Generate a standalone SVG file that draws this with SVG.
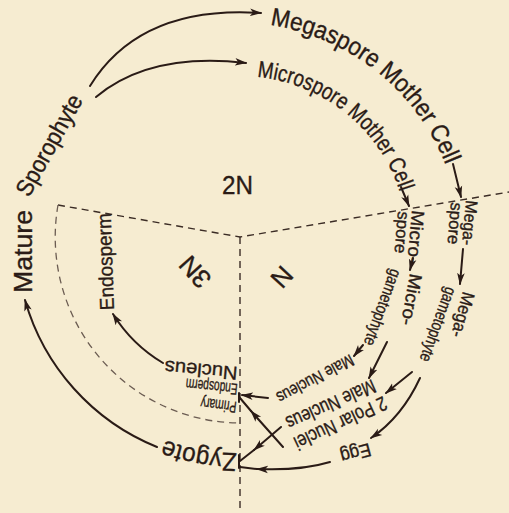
<svg xmlns="http://www.w3.org/2000/svg" xmlns:xlink="http://www.w3.org/1999/xlink" width="509" height="513" viewBox="0 0 509 513">
<style>
.t{font-family:"Liberation Sans","DejaVu Sans",sans-serif;fill:#2a1b16;stroke:#2a1b16;stroke-width:0.35;}
.ln{fill:none;stroke:#2a1b16;stroke-width:2;stroke-linecap:round}
.dash{fill:none;stroke:#3b2c25;stroke-width:1.4;stroke-dasharray:7 5}
.dash2{fill:none;stroke:#6b5c52;stroke-width:1.3;stroke-dasharray:7 5}
</style>
<defs>
<marker id="ah" markerWidth="12" markerHeight="10" refX="11" refY="5" orient="auto" markerUnits="userSpaceOnUse">
<path d="M0,1.2 L12,5 L0,8.8 L3,5 z" fill="#2a1b16"/>
</marker>
<path id="pMega" d="M270,25 A225,225 0 0,1 454,190"/>
<path id="pMicro" d="M257,77 A166,166 0 0,1 405,213"/>
<path id="pZyg" d="M237,453 A216,216 0 0,1 148,433"/>
</defs>
<rect width="509" height="513" fill="#f6ecd1"/>
<g id="regions">
<path class="dash" d="M58,205 L240,237 L509,192"/>
<path class="dash" d="M240,237 L240,513"/>
<path class="dash2" d="M58,205 A186,186 0 0,0 240,423"/>
</g>
<g id="connectors">
<path class="ln" d="M90,86 Q140,5 261,13" marker-end="url(#ah)"/>
<path class="ln" d="M96,97 Q150,52 246,63" marker-end="url(#ah)"/>
<path class="ln" d="M453,164 L461,197" marker-end="url(#ah)"/>
<path class="ln" d="M401,187 L409,206" marker-end="url(#ah)"/>
<path class="ln" d="M463,249 L460,284" marker-end="url(#ah)"/>
<path class="ln" d="M413,258 L410,270" marker-end="url(#ah)"/>
<path class="ln" d="M363,345 L354,356" marker-end="url(#ah)"/>
<path class="ln" d="M387,342 L369,378" marker-end="url(#ah)"/>
<path class="ln" d="M412,372 L386,393" marker-end="url(#ah)"/>
<path class="ln" d="M420,378 Q402,417 371,438" marker-end="url(#ah)"/>
<path class="ln" d="M268,398 L242,395" marker-end="url(#ah)"/>
<path class="ln" d="M283,447 L251,411" marker-end="url(#ah)"/>
<path class="ln" d="M251,411 L240,398"/>
<path class="ln" d="M281,427 L254,450" marker-end="url(#ah)"/>
<path class="ln" d="M254,450 L240,461"/>
<path class="ln" d="M330,462 Q300,471 257,469" marker-end="url(#ah)"/>
<path class="ln" d="M257,469 L240,467"/>
<path class="ln" d="M157,447 A225,225 0 0,1 25,300" marker-end="url(#ah)"/>
<path class="ln" d="M163,363 A148,148 0 0,1 113,314" marker-end="url(#ah)"/>
<path class="ln" d="M239,393 L239,402"/>
<path class="ln" d="M239,455 L239,468"/>
</g>
<g id="mature-sporophyte">
<text class="t" font-size="26" transform="translate(32,293) rotate(-90)" textLength="83" lengthAdjust="spacingAndGlyphs">Mature</text>
<text class="t" font-size="24" transform="translate(29,198) rotate(-61)" textLength="112" lengthAdjust="spacingAndGlyphs">Sporophyte</text>
</g>
<g id="megaspore-mother-cell">
<text class="t" font-size="25"><textPath xlink:href="#pMega" href="#pMega" textLength="235" lengthAdjust="spacingAndGlyphs">Megaspore Mother Cell</textPath></text>
</g>
<g id="microspore-mother-cell">
<text class="t" font-size="23"><textPath xlink:href="#pMicro" href="#pMicro" textLength="194" lengthAdjust="spacingAndGlyphs">Microspore Mother Cell</textPath></text>
</g>
<g id="megaspore">
<text class="t" font-size="17" transform="translate(466,200) rotate(95)" textLength="45" lengthAdjust="spacingAndGlyphs">Mega-</text>
<text class="t" font-size="17" transform="translate(451,202) rotate(95)" textLength="42" lengthAdjust="spacingAndGlyphs">spore</text>
</g>
<g id="microspore">
<text class="t" font-size="18" transform="translate(412,210) rotate(95)" textLength="53" lengthAdjust="spacingAndGlyphs">Micro-</text>
<text class="t" font-size="17" transform="translate(398,211) rotate(95)" textLength="42" lengthAdjust="spacingAndGlyphs">spore</text>
</g>
<g id="megagametophyte">
<text class="t" font-size="18" transform="translate(463,291) rotate(105)" textLength="46" lengthAdjust="spacingAndGlyphs">Mega-</text>
<text class="t" font-size="17" transform="translate(446,286) rotate(110)" textLength="78" lengthAdjust="spacingAndGlyphs">gametophyte</text>
</g>
<g id="microgametophyte">
<text class="t" font-size="18" transform="translate(410,273) rotate(100)" textLength="52" lengthAdjust="spacingAndGlyphs">Micro-</text>
<text class="t" font-size="17" transform="translate(391,268) rotate(110)" textLength="80" lengthAdjust="spacingAndGlyphs">gametophyte</text>
</g>
<g id="male-nucleus-1">
<text class="t" font-size="17" transform="translate(350,354) rotate(152)" textLength="85" lengthAdjust="spacingAndGlyphs">Male Nucleus</text>
</g>
<g id="male-nucleus-2">
<text class="t" font-size="20" transform="translate(372,379) rotate(156)" textLength="96" lengthAdjust="spacingAndGlyphs">Male Nucleus</text>
</g>
<g id="polar-nuclei">
<text class="t" font-size="20" transform="translate(383,396) rotate(155)" textLength="100" lengthAdjust="spacingAndGlyphs">2 Polar Nuclei</text>
</g>
<g id="egg">
<text class="t" font-size="19" transform="translate(369,443) rotate(165)" textLength="31" lengthAdjust="spacingAndGlyphs">Egg</text>
</g>
<g id="primary-endosperm-nucleus">
<text class="t" font-size="16" transform="translate(237,402) rotate(187)" textLength="36" lengthAdjust="spacingAndGlyphs">Primary</text>
<text class="t" font-size="16" transform="translate(238,384) rotate(186)" textLength="52" lengthAdjust="spacingAndGlyphs">Endosperm</text>
<text class="t" font-size="19" transform="translate(238,367) rotate(185)" textLength="73" lengthAdjust="spacingAndGlyphs">Nucleus</text>
</g>
<g id="zygote">
<text class="t" font-size="26"><textPath xlink:href="#pZyg" href="#pZyg" textLength="74" lengthAdjust="spacingAndGlyphs">Zygote</textPath></text>
</g>
<g id="endosperm">
<text class="t" font-size="20" transform="translate(114,310) rotate(-92)" textLength="97" lengthAdjust="spacingAndGlyphs">Endosperm</text>
</g>
<g id="labels">
<text class="t" font-size="26" x="222" y="194" textLength="31" lengthAdjust="spacingAndGlyphs">2N</text>
<text class="t" font-size="26" transform="translate(195,272) rotate(228)" x="0" y="9" text-anchor="middle">3N</text>
<text class="t" font-size="26" transform="translate(282,277) rotate(133)" x="0" y="9" text-anchor="middle">N</text>
</g>
</svg>
